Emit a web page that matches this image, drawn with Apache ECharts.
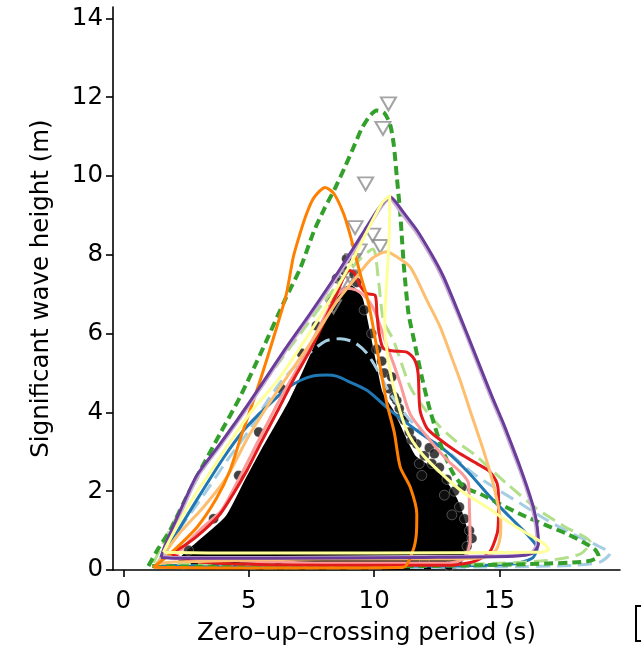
<!DOCTYPE html>
<html>
<head>
<meta charset="utf-8">
<script src="https://cdn.jsdelivr.net/npm/echarts@6/dist/echarts.min.js"></script>
<style>
html,body{margin:0;padding:0;background:#fff;}
#chart{width:641px;height:649px;}
</style>
</head>
<body>
<div id="chart"></div>
<script>
// Tick labels
var xTicks = [0, 5, 10, 15];
var yTicks = [0, 2, 4, 6, 8, 10, 12, 14];

// Dense observation cloud (outline of the black mass) [Tz, Hs]
var obsMass = [[2.2,0.05],[2.3,0.3],[2.9,0.66],[4.1,1.34],[4.9,2.3],[5.6,3.12],[6.65,4.3],[7.45,5.4],[8.2,6.5],[8.7,7.1],[9.1,7.2],[9.5,6.9],[9.7,6.34],[10.1,5.07],[10.3,4.5],[10.77,4.0],[11.6,2.9],[12.6,2.45],[13.3,1.76],[13.7,0.92],[13.5,0.25],[13.2,0.05]];

// Individual observations at the edge of the cloud
var obsFringe = [[9.9,6.0],[10.1,5.6],[10.4,5.0],[10.6,4.6],[10.9,4.3],[11.1,3.9],[11.4,3.5],[11.7,3.2],[12.0,2.9],[12.3,2.7],[12.6,2.6],[12.9,2.3],[13.2,2.0],[13.4,1.6],[13.6,1.3],[13.8,1.0],[13.7,0.6],[11.2,3.8],[11.9,2.4],[12.2,3.1],[10.7,4.9],[12.8,1.9],[13.9,0.8],[9.6,6.6],[9.3,7.3],[8.8,7.6],[8.5,7.4],[8.9,7.9],[9.2,7.5],[8.3,6.9],[7.7,6.2],[7.1,5.5],[6.3,4.6],[5.4,3.5],[4.6,2.4],[3.6,1.3],[2.6,0.5],[12.0,0.2],[13.0,0.1],[2.4,0.15],[10.3,5.3],[11.0,4.1],[11.5,3.3],[12.4,2.95],[13.1,1.4],[13.5,2.1],[11.8,2.7],[10.8,4.4]];

// Extreme observations (triangles)
var extremes = [[10.57,11.83],[10.35,11.21],[9.66,9.8],[9.24,8.69],[9.94,8.5],[10.24,8.21],[9.4,8.1],[9.17,7.86],[9.04,7.44],[8.71,7.27],[8.38,6.68]];

// Contours [Tz, Hs]
var contourLightBlue = [[1.3,0.12],[2.2,1.0],[3.2,1.9],[4.1,2.75],[4.92,3.46],[5.6,4.15],[6.25,4.75],[6.9,5.2],[7.5,5.55],[8.1,5.82],[8.64,5.87],[9.2,5.78],[9.71,5.5],[10.2,5.0],[10.64,4.47],[11.44,3.8],[12.2,3.35],[13.03,2.95],[13.95,2.45],[14.9,2.05],[15.8,1.7],[16.8,1.3],[17.8,0.95],[18.8,0.65],[19.4,0.42],[19.0,0.2],[18.0,0.12],[15,0.08],[10,0.06],[5,0.06],[1.3,0.12]];
var contourBlue = [[1.4,0.12],[2.0,0.8],[3.0,1.85],[4.0,2.85],[4.79,3.54],[5.4,3.95],[5.98,4.3],[6.5,4.6],[7.05,4.81],[7.6,4.93],[8.1,4.95],[8.5,4.92],[9.1,4.75],[9.71,4.56],[10.2,4.3],[10.64,4.05],[11.7,3.54],[12.9,3.0],[13.8,2.45],[14.63,1.85],[15.4,1.35],[16.1,0.9],[16.5,0.55],[16.3,0.3],[15.5,0.15],[12,0.1],[6,0.1],[1.4,0.12]];
var contourLightGreen = [[1.2,0.18],[2.0,1.2],[3.06,2.44],[4.3,3.6],[5.58,4.73],[7.0,5.95],[8.3,7.05],[9.3,7.8],[9.95,8.15],[10.17,7.36],[10.37,6.34],[10.77,5.83],[11.44,4.64],[12.0,4.1],[12.63,3.63],[13.3,3.25],[13.96,2.95],[15.29,2.19],[16.5,1.55],[17.6,1.1],[18.62,0.7],[18.2,0.4],[16.89,0.24],[14,0.15],[8,0.12],[1.2,0.18]];
var contourGreen = [[1.0,0.1],[1.4,0.55],[1.86,1.0],[2.4,1.7],[3.06,2.52],[3.85,3.45],[4.66,4.4],[5.55,5.6],[6.44,6.85],[7.05,7.65],[7.6,8.6],[8.0,9.15],[8.45,9.7],[8.85,10.25],[9.2,10.76],[9.5,11.2],[9.8,11.5],[10.1,11.66],[10.4,11.6],[10.64,11.3],[10.78,10.8],[10.9,10.0],[11.04,9.05],[11.12,8.3],[11.2,7.6],[11.37,6.51],[11.6,5.8],[11.9,4.9],[12.23,4.05],[12.7,3.1],[13.16,2.44],[13.6,2.1],[14.23,1.93],[15.0,1.68],[15.82,1.42],[16.8,1.15],[17.68,0.92],[18.3,0.72],[18.8,0.52],[18.95,0.35],[18.5,0.22],[16.2,0.15],[12,0.1],[6,0.07],[1.0,0.1]];
var contourPink = [[2.0,0.3],[2.5,0.65],[3.2,1.1],[3.9,1.5],[4.6,2.3],[5.4,3.3],[6.3,4.4],[7.2,5.4],[8.0,6.4],[8.5,6.95],[8.9,7.15],[9.3,7.1],[9.7,6.9],[10.0,6.6],[10.24,6.2],[10.5,5.7],[10.77,5.24],[11.04,4.73],[11.44,3.95],[12.23,3.29],[12.9,2.8],[13.5,2.45],[13.76,2.2],[13.8,1.5],[13.83,0.75],[13.6,0.3],[13.0,0.18],[8,0.18],[2.0,0.3]];
var contourRed = [[1.86,0.41],[2.53,0.66],[3.2,1.0],[3.86,1.42],[4.4,1.95],[4.92,2.52],[5.5,3.25],[6.2,4.1],[6.8,4.85],[7.45,5.58],[8.0,6.3],[8.5,7.0],[8.8,7.45],[9.0,7.6],[9.2,7.55],[9.45,7.2],[9.71,7.02],[10.04,6.97],[10.11,6.5],[10.2,6.0],[10.37,5.62],[10.8,5.56],[11.3,5.53],[11.6,5.35],[11.75,5.0],[11.83,4.05],[12.1,3.6],[12.5,3.37],[13.3,3.0],[14.1,2.7],[14.6,2.5],[14.9,2.2],[14.96,1.76],[14.95,1.2],[14.9,0.92],[14.6,0.45],[14.0,0.22],[13.0,0.12],[8,0.12],[3,0.2],[1.86,0.41]];
var contourLightOrange = [[1.35,0.15],[2.2,0.9],[3.2,1.6],[4.12,2.35],[5.0,3.4],[6.2,4.6],[7.45,5.75],[8.5,6.8],[9.31,7.45],[9.9,7.9],[10.5,8.08],[10.9,7.95],[11.44,7.69],[12.1,6.85],[12.63,6.17],[13.0,5.55],[13.43,4.81],[13.9,3.9],[14.36,3.03],[14.7,2.3],[14.9,1.76],[15.05,1.2],[15.03,0.85],[14.85,0.5],[14.4,0.32],[13,0.28],[8,0.28],[2,0.2],[1.35,0.15]];
var contourOrange = [[1.2,0.07],[1.86,0.41],[2.93,1.08],[3.7,1.8],[4.25,2.52],[4.7,3.4],[5.19,4.3],[5.7,5.3],[6.12,6.17],[6.5,7.0],[6.78,7.95],[7.05,8.55],[7.31,9.05],[7.6,9.45],[8.05,9.71],[8.4,9.55],[8.78,9.05],[9.0,8.6],[9.17,8.2],[9.45,7.5],[9.71,6.93],[9.91,6.34],[10.2,5.3],[10.51,4.22],[10.8,3.5],[11.04,2.61],[11.44,2.1],[11.7,1.42],[11.68,0.9],[11.55,0.5],[11.17,0.07],[8,0.05],[4,0.05],[1.2,0.07]];
var contourLavender = [[1.58,0.34],[1.72,0.61],[2.37,1.55],[3.0,2.4],[3.87,3.15],[4.77,3.95],[5.57,4.7],[6.57,5.65],[7.52,6.51],[8.56,7.48],[9.55,8.46],[10.22,9.15],[10.63,9.42],[10.8,9.31],[11.15,9.0],[11.64,8.6],[12.24,7.98],[12.7,7.43],[13.1,6.84],[13.65,5.99],[14.17,5.14],[14.64,4.39],[15.1,3.7],[15.44,3.14],[15.76,2.6],[16.04,2.1],[16.29,1.59],[16.44,1.1],[16.49,0.67],[16.25,0.44],[15.5,0.37],[12,0.34],[6,0.32],[2,0.32],[1.58,0.34]];
var contourPurple = [[1.5,0.32],[1.65,0.6],[2.3,1.55],[2.93,2.4],[3.8,3.15],[4.7,3.95],[5.5,4.7],[6.5,5.65],[7.45,6.51],[8.5,7.5],[9.5,8.5],[10.2,9.2],[10.65,9.47],[10.85,9.35],[11.2,9.05],[11.7,8.63],[12.3,8.0],[12.76,7.45],[13.16,6.85],[13.7,6.0],[14.23,5.15],[14.7,4.4],[15.16,3.71],[15.5,3.15],[15.82,2.61],[16.1,2.1],[16.35,1.59],[16.5,1.1],[16.55,0.66],[16.3,0.42],[15.56,0.35],[12,0.32],[6,0.3],[2,0.3],[1.5,0.32]];
var contourYellow = [[1.6,0.45],[2.3,1.3],[3.0,2.05],[3.38,2.4],[4.3,3.3],[5.2,4.1],[6.05,4.73],[7.0,5.6],[8.0,6.6],[9.0,7.7],[9.8,8.7],[10.3,9.3],[10.62,9.5],[10.6,8.5],[10.5,7.3],[10.42,6.3],[10.5,5.6],[10.77,4.64],[11.3,3.54],[11.9,2.95],[12.63,2.48],[13.5,2.0],[14.5,1.59],[15.4,1.2],[16.22,0.88],[16.8,0.65],[16.95,0.52],[16.6,0.45],[16.22,0.45],[10,0.43],[4,0.43],[1.6,0.45]];

var chart = echarts.init(document.getElementById('chart'), null, {renderer: 'canvas'});
var FONT = 'DejaVu Sans';
var FS = 24.5;

function contour(data, color, width, dash) {
  return {
    type: 'line', data: data, symbol: 'none', showSymbol: false, smooth: 0.25,
    lineStyle: {color: color, width: width, type: dash || 'solid', cap: 'butt', join: 'round'},
    silent: true, animation: false, clip: true
  };
}

var option = {
  animation: false,
  grid: {left: 113, top: 7, right: 21, bottom: 79, outerBoundsMode: 'none'},
  xAxis: {
    type: 'value', min: -0.41, max: 19.8,
    axisLine: {show: true, onZero: false, lineStyle: {color: '#000', width: 1.6}},
    axisTick: {show: true, length: 7, customValues: xTicks, lineStyle: {color: '#000', width: 1.6}},
    axisLabel: {customValues: xTicks, fontSize: FS, color: '#000', fontFamily: FONT, margin: 19},
    splitLine: {show: false},
    name: 'Zero–up–crossing period (s)', nameLocation: 'middle', nameGap: 51,
    nameTextStyle: {fontSize: FS, color: '#000', fontFamily: FONT}
  },
  yAxis: {
    type: 'value', min: 0, max: 14.29,
    axisLine: {show: true, onZero: false, lineStyle: {color: '#000', width: 1.6}},
    axisTick: {show: true, length: 7, customValues: yTicks, lineStyle: {color: '#000', width: 1.6}},
    axisLabel: {customValues: yTicks, fontSize: FS, color: '#000', fontFamily: FONT, margin: 10},
    splitLine: {show: false},
    name: 'Significant wave height (m)', nameLocation: 'middle', nameGap: 59,
    nameTextStyle: {fontSize: FS, color: '#000', fontFamily: FONT}
  },
  graphic: [{
    type: 'rect', shape: {x: 636, y: 606, width: 30, height: 35},
    style: {fill: 'none', stroke: '#000', lineWidth: 2}
  }],
  series: [
    {
      type: 'custom', data: obsMass, encode: {x: 0, y: 1}, silent: true, animation: false,
      renderItem: function (params, api) {
        if (params.dataIndex !== 0) return null;
        var pts = obsMass.map(function (p) { return api.coord(p); });
        return {type: 'polygon', shape: {points: pts, smooth: 0.2}, style: {fill: '#000', stroke: '#000', lineWidth: 2}};
      }
    },
    {
      type: 'scatter', data: obsFringe, symbol: 'circle', symbolSize: 10, silent: true, animation: false,
      itemStyle: {color: '#111', borderColor: 'rgba(255,255,255,0.45)', borderWidth: 0.8, opacity: 0.8}
    },
    contour(contourLightBlue, '#a6cee3', 3, [14, 7]),
    contour(contourBlue, '#1f78b4', 3),
    contour(contourLightGreen, '#b2df8a', 3, [14, 7]),
    contour(contourGreen, '#33a02c', 4, [9, 5]),
    contour(contourPink, '#fb9a99', 3),
    contour(contourRed, '#e31a1c', 3),
    contour(contourLightOrange, '#fdbf6f', 3),
    contour(contourOrange, '#ff7f00', 3),
    contour(contourLavender, '#cab2d6', 3),
    contour(contourPurple, '#6a3d9a', 3),
    contour(contourYellow, '#ffff99', 3),
    {
      type: 'scatter', data: extremes, symbol: 'triangle', symbolRotate: 180, symbolSize: [15, 13],
      silent: true, animation: false,
      itemStyle: {color: 'rgba(0,0,0,0)', borderColor: '#8c8c8c', borderWidth: 2}
    }
  ]
};
chart.setOption(option);
</script>
</body>
</html>
